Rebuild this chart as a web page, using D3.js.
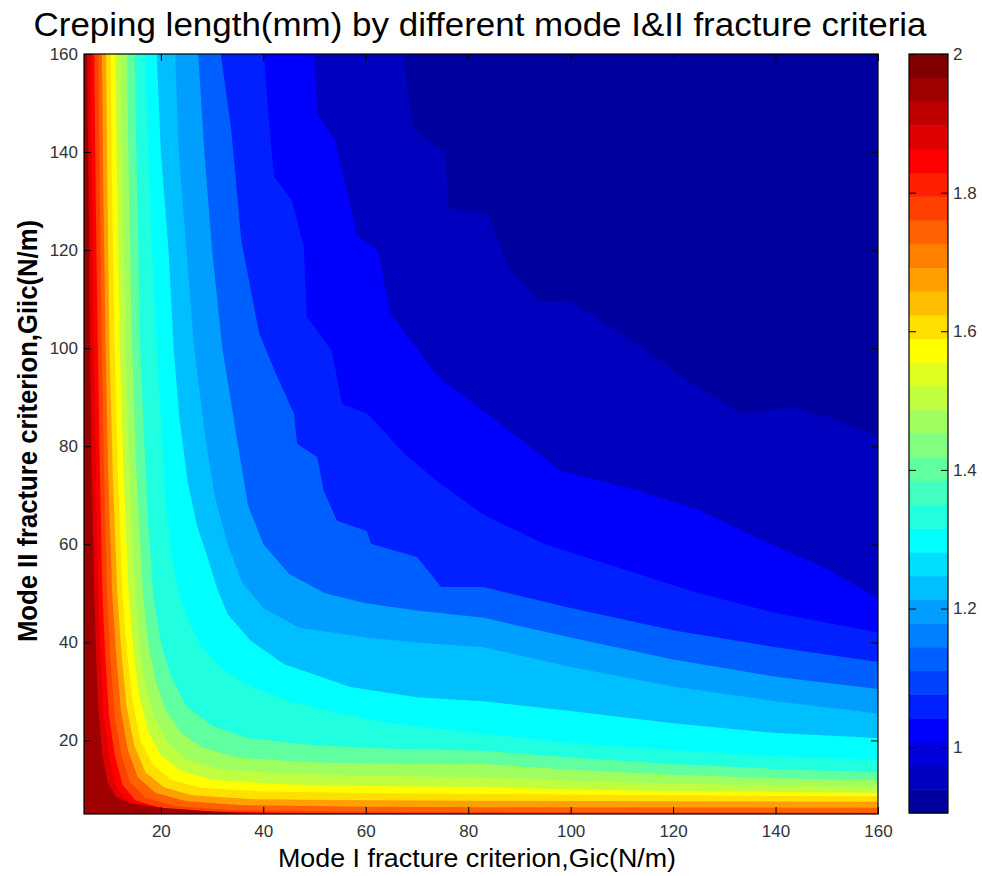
<!DOCTYPE html>
<html>
<head>
<meta charset="utf-8">
<script src="https://cdn.jsdelivr.net/npm/d3@7"></script>
<style>
  body { margin: 0; background: #fff; }
  text { font-family: 'Liberation Sans', Arial, sans-serif; }
</style>
</head>
<body>
<svg id="chart" width="982" height="876"></svg>
<script>
// ticks
const xTicks = [20, 40, 60, 80, 100, 120, 140, 160]
const yTicks = [20, 40, 60, 80, 100, 120, 140, 160]
const cbarTicks = [1, 1.2, 1.4, 1.6, 1.8, 2]

// colour limits and number of filled levels
const zMin = 0.905
const zMax = 2.0
const nLevels = 20

// iso-lines, [Gic, Giic], level 1 .. 19 (level 0 fills everything)
const isolines = [
  [[67.3,160],[68.5,150],[69.5,144.5],[75.5,140],[76.2,128.5],[84,127.3],[88,116],[94,109.5],[100,109.6],[106,105.5],[112,101.5],[122,94],[133.4,86.6],[143.4,88],[150,86],[160,82]],
  [[49.9,160],[50.5,148],[54,142.3],[58.3,123],[62.4,119.8],[64.8,107],[74.2,94.1],[88.9,82.5],[98,75],[113,71],[125,67],[137,61],[150,55],[160,49]],
  [[40.1,160],[41.1,146.3],[42.1,135],[45.6,130],[47.9,120.6],[48.5,106.4],[53.4,99.4],[55.4,88.6],[60.4,86.6],[68,78],[75,72],[83,66],[95,60],[110,55],[125,50],[140,46],[160,42]],
  [[31.7,160],[33.7,145],[35.7,122],[39.2,103],[42.5,94.7],[46,86.6],[46.6,80.5],[50.5,77.8],[51.8,70.9],[54.4,64.8],[60.2,62.7],[61,60.1],[70,57.4],[74.7,51.3],[83,51.3],[100,47],[120,42.5],[140,39],[160,36]],
  [[27.3,160],[28.5,140],[30,120],[32,100],[34.7,82.5],[37,68],[40,60],[45,54],[52,50],[60,48],[70,46.5],[83,45],[100,41],[120,36.5],[140,33],[160,30.5]],
  [[22.8,160],[23.5,140],[25,120],[26.5,100],[28.6,82.5],[30.5,70],[33,60],[36,52],[40,47],[47,43],[60,41],[70,40],[83,39],[100,35],[120,31],[140,28],[160,25.5]],
  [[19.2,160],[20,140],[21.5,120],[22.5,100],[23.6,86],[25.2,73],[27,64],[29.1,57.4],[31,51],[33,45.8],[37.5,40.4],[44,35.6],[57,30.9],[70,28.8],[83,28],[100,26],[120,23.5],[140,21.5],[160,20.5]],
  [[16.9,160],[17.5,140],[18.3,120],[19.2,100],[20,86.6],[20.8,70],[22,58],[23.5,50],[25.5,44],[28,39],[32,34.5],[37.5,31],[45,28],[55,25.5],[65,23.5],[83,21.3],[100,19.5],[120,18],[140,16.8],[160,16]],
  [[14.9,160],[15.4,130],[16,100],[16.8,80],[17.5,65],[18.5,50],[20,40],[22,33],[25,27],[30,23],[37,20.5],[50,19],[65,18.3],[83,17.9],[100,16.5],[120,15.2],[140,14.2],[160,13.5]],
  [[13.4,160],[13.8,130],[14.4,100],[15.2,75],[16.5,50],[17.5,40],[19,32],[21,26],[24,21.5],[28,18.5],[35,16.5],[50,15.5],[65,15.3],[83,15.2],[100,14],[120,13],[140,12.3],[160,11.9]],
  [[12.2,160],[12.6,130],[13.1,100],[13.8,75],[15,50],[16,38],[17.2,30],[19,24],[21.5,19.5],[25,16],[32,14],[45,13.2],[60,12.8],[83,12.5],[100,11.8],[120,11.2],[140,10.8],[160,10.5]],
  [[11.1,160],[11.5,130],[12,100],[12.7,75],[13.7,50],[14.7,38],[15.8,29],[17.5,22],[20,17],[24,13.8],[30,12],[45,11],[60,10.7],[83,10.5],[100,10],[120,9.7],[140,9.5],[160,9.3]],
  [[10.2,160],[10.5,130],[11,100],[11.6,75],[12.5,50],[13.4,38],[14.5,28],[16,20],[18.5,15],[22,12],[28,10.3],[40,9.6],[60,9.3],[83,9.1],[120,8.8],[160,8.6]],
  [[9.3,160],[9.6,130],[10,100],[10.6,75],[11.5,50],[12.3,38],[13.3,27],[14.8,19],[17,13.5],[20.5,10.5],[26,8.8],[38,8],[60,7.8],[83,7.7],[120,7.6],[160,7.5]],
  [[8.5,160],[8.8,130],[9.2,100],[9.7,75],[10.5,50],[11.3,37],[12.2,26],[13.6,18],[15.5,12.5],[19,9.3],[25,7.6],[36,6.8],[60,6.5],[83,6.4],[160,6.3]],
  [[7.8,160],[8.1,130],[8.5,100],[8.9,75],[9.5,50],[10.2,36],[11,25],[12.3,17],[14,11.5],[17,8.3],[23,6.6],[34,5.8],[60,5.5],[100,5.4],[160,5.3]],
  [[7,160],[7.3,130],[7.7,100],[8.1,75],[8.6,50],[9.2,36],[9.9,25],[11,17],[12.5,11],[15,7.8],[20,6.2],[30,5.5],[50,5.2],[85,5]],
  [[6.3,160],[6.6,130],[6.9,100],[7.3,75],[7.8,50],[8.3,36],[8.9,25],[9.8,17],[11,11],[13,8],[17,6.5],[25,5.6],[45,5]],
  [[5.6,160],[5.9,130],[6.2,100],[6.5,75],[7,50],[7.4,36],[7.9,25],[8.6,17],[9.6,11.5],[11.2,8.5],[14,7.2],[20,6.3],[30,5.5],[40,5]]
]

const plot = { left: 84, right: 878, top: 54, bottom: 814 }
const cbar = { left: 909, right: 948, top: 54, bottom: 813 }

const svg = d3.select('#chart')

/// scales ////////////////////////////////
const xScale = d3.scaleLinear().domain([5, 160]).range([plot.left, plot.right])
const yScale = d3.scaleLinear().domain([5, 160]).range([plot.bottom, plot.top])
const cScale = d3.scaleLinear().domain([zMin, zMax]).range([cbar.bottom, cbar.top])

// matlab style jet colormap
function jet(m) {
  const n = Math.ceil(m / 4)
  const u = d3.range(1, n + 1).map(i => i / n)
    .concat(d3.range(n - 1).map(() => 1))
    .concat(d3.range(n, 0, -1).map(i => i / n))
  const g0 = Math.ceil(n / 2) - (m % 4 === 1 ? 1 : 0)
  const cols = d3.range(m).map(() => [0, 0, 0])
  u.forEach((v, j) => {
    const gi = g0 + j + 1
    if (gi + n >= 1 && gi + n <= m) cols[gi + n - 1][0] = v
    if (gi >= 1 && gi <= m) cols[gi - 1][1] = v
    if (gi - n >= 1 && gi - n <= m) cols[gi - n - 1][2] = v
  })
  return cols.map(c => d3.rgb(c[0] * 255, c[1] * 255, c[2] * 255).formatHex())
}
const cmap = jet(32)
const colorOf = v => cmap[Math.min(31, Math.floor(((v - zMin) / (zMax - zMin)) * 32 + 1e-9))]

const levels = d3.range(nLevels).map(k => zMin + (k * (zMax - zMin)) / nLevels)

/// filled contours ////////////////////////
svg.append('clipPath').attr('id', 'clip')
  .append('rect')
  .attr('x', plot.left).attr('y', plot.top)
  .attr('width', plot.right - plot.left).attr('height', plot.bottom - plot.top)

const g = svg.append('g').attr('clip-path', 'url(#clip)')

const line = d3.line().x(d => xScale(d[0])).y(d => yScale(d[1]))

g.append('rect')
  .attr('x', plot.left).attr('y', plot.top)
  .attr('width', plot.right - plot.left).attr('height', plot.bottom - plot.top)
  .attr('fill', colorOf(levels[0]))

g.selectAll('path.band')
  .data(isolines)
  .enter()
  .append('path')
  .attr('class', 'band')
  .attr('d', pts => {
    const poly = [[5, 160]].concat(pts)
    if (pts[pts.length - 1][0] >= 160) poly.push([160, 5])
    poly.push([5, 5])
    return line(poly) + 'Z'
  })
  .attr('fill', (d, i) => colorOf(levels[i + 1]))

/// axes ///////////////////////////////////
const tickLen = 7
function styleAxis(sel) {
  sel.select('.domain').remove()
  sel.selectAll('.tick line').attr('stroke', '#000')
  sel.selectAll('.tick text').attr('fill', '#333').attr('font-size', 17)
    .style('font-family', "'Liberation Sans', Arial, sans-serif")
}

svg.append('g')
  .attr('transform', `translate(0,${plot.bottom})`)
  .call(d3.axisBottom(xScale).tickValues(xTicks).tickSizeInner(-tickLen).tickSizeOuter(0).tickPadding(11))
  .call(styleAxis)

svg.append('g')
  .attr('transform', `translate(0,${plot.top})`)
  .call(d3.axisTop(xScale).tickValues(xTicks).tickSizeInner(-tickLen).tickSizeOuter(0).tickFormat(''))
  .call(styleAxis)

svg.append('g')
  .attr('transform', `translate(${plot.left},0)`)
  .call(d3.axisLeft(yScale).tickValues(yTicks).tickSizeInner(-tickLen).tickSizeOuter(0).tickPadding(6))
  .call(styleAxis)

svg.append('g')
  .attr('transform', `translate(${plot.right},0)`)
  .call(d3.axisRight(yScale).tickValues(yTicks).tickSizeInner(-tickLen).tickSizeOuter(0).tickFormat(''))
  .call(styleAxis)

svg.append('rect')
  .attr('x', plot.left).attr('y', plot.top)
  .attr('width', plot.right - plot.left).attr('height', plot.bottom - plot.top)
  .attr('fill', 'none').attr('stroke', '#000').attr('stroke-width', 1.2)

/// colorbar ///////////////////////////////
const cStep = (zMax - zMin) / cmap.length
svg.append('g')
  .selectAll('rect')
  .data(cmap)
  .enter()
  .append('rect')
  .attr('x', cbar.left)
  .attr('width', cbar.right - cbar.left)
  .attr('y', (d, i) => cScale(zMin + (i + 1) * cStep))
  .attr('height', (d, i) => cScale(zMin + i * cStep) - cScale(zMin + (i + 1) * cStep) + 0.5)
  .attr('fill', d => d)

svg.append('g')
  .attr('transform', `translate(${cbar.right},0)`)
  .call(d3.axisRight(cScale).tickValues(cbarTicks).tickSizeInner(-tickLen).tickSizeOuter(0).tickPadding(5).tickFormat(d3.format('~g')))
  .call(styleAxis)

svg.append('g')
  .attr('transform', `translate(${cbar.left},0)`)
  .call(d3.axisLeft(cScale).tickValues(cbarTicks).tickSizeInner(-tickLen).tickSizeOuter(0).tickFormat(''))
  .call(styleAxis)

svg.append('rect')
  .attr('x', cbar.left).attr('y', cbar.top)
  .attr('width', cbar.right - cbar.left).attr('height', cbar.bottom - cbar.top)
  .attr('fill', 'none').attr('stroke', '#000').attr('stroke-width', 1.2)

/// labels /////////////////////////////////
svg.append('text')
  .attr('x', 480).attr('y', 36)
  .attr('text-anchor', 'middle')
  .attr('font-size', 33)
  .attr('textLength', 893).attr('lengthAdjust', 'spacingAndGlyphs')
  .text('Creping length(mm) by different mode I&II fracture criteria')

svg.append('text')
  .attr('x', 477).attr('y', 867)
  .attr('text-anchor', 'middle')
  .attr('font-size', 25)
  .attr('textLength', 398).attr('lengthAdjust', 'spacingAndGlyphs')
  .text('Mode I fracture criterion,Gic(N/m)')

svg.append('text')
  .attr('transform', 'translate(37,431) rotate(-90)')
  .attr('text-anchor', 'middle')
  .attr('font-size', 27)
  .attr('font-weight', 'bold')
  .attr('textLength', 422).attr('lengthAdjust', 'spacingAndGlyphs')
  .text('Mode II fracture criterion,Giic(N/m)')
</script>
</body>
</html>
